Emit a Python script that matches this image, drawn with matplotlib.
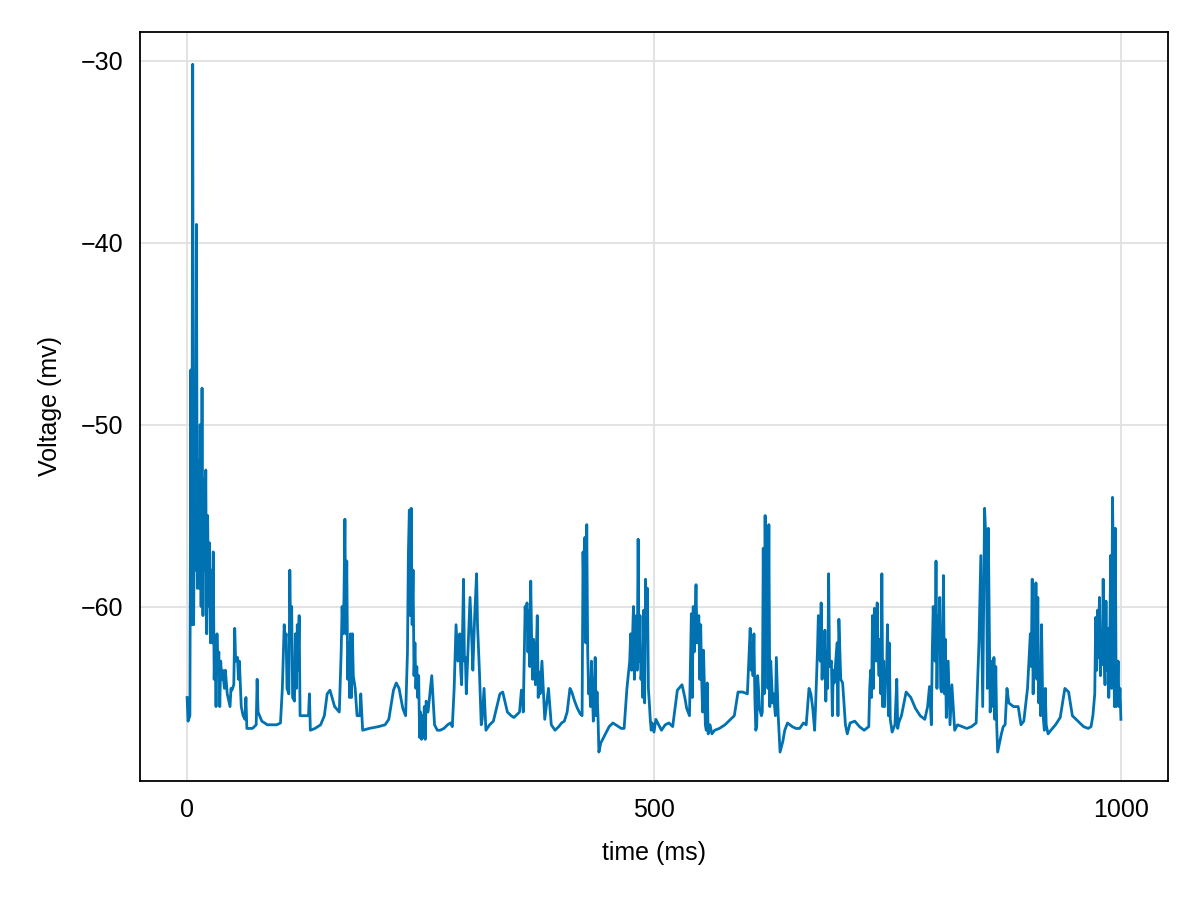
import matplotlib.pyplot as plt

# membrane voltage trace: (time ms, voltage mV)
trace = [
    (0, -65), (1, -66.3), (3, -66), (4, -47), (5, -61), (6, -30.2), (7, -61), (8, -53), (9, -58), (10, -39),
    (11, -59), (12, -52), (13, -59), (14, -50), (15, -60), (16, -48), (17, -60.5), (18, -53), (19, -58), (20, -52.5),
    (21, -61.5), (22, -55), (23, -60), (24, -56.5), (25, -62), (26, -58), (27, -62), (28, -57), (29, -64), (30, -62),
    (31, -65.5), (32, -61.5), (33, -63.5), (34, -62.5), (35, -65.5), (36, -63), (37, -64), (38, -63.5), (40, -64.5),
    (41, -63.5), (43, -64.8), (46, -65.5), (47, -64.5), (48, -64.6), (50, -64.3), (51, -61.2), (52, -63), (54, -62.8),
    (55, -64), (56, -63), (58, -65.5), (60, -66), (62, -66.2), (63, -65), (64, -66.7), (70, -66.7), (74, -66.5),
    (75, -64), (76, -65.8), (80, -66.3), (86, -66.5), (96, -66.5),
    (100, -66.4), (102, -64.5), (104, -61), (105, -62), (106, -61.5), (107, -64.5), (109, -64.8), (110, -58),
    (111, -62), (112, -60), (113, -65), (115, -65.2), (116, -61.5), (117, -64.5), (118, -61), (119, -63.5),
    (120, -60.5), (121, -66), (124, -66), (130, -66), (131, -64.8), (132, -66.8), (137, -66.7), (143, -66.5),
    (147, -66), (150, -64.8), (153, -64.6), (158, -65.5), (163, -65.8),
    (165, -62.5), (166, -60), (167, -61.5), (168, -59.5), (169, -55.2), (170, -61.5), (171, -57.5), (172, -64),
    (173, -62), (174, -65), (175, -61.5), (176, -65), (177, -61.5), (178, -63.8), (180, -64.5), (182, -66),
    (185, -66), (186, -64.8), (188, -66.8), (195, -66.7), (205, -66.6), (212, -66.5), (216, -66.2),
    (221, -64.6), (224, -64.2), (227, -64.5), (231, -65.6), (234, -66),
    (236, -62.5), (237, -57), (238, -54.7), (239, -60.5), (240, -54.6), (241, -61), (242, -58), (243, -63.8),
    (244, -62), (245, -64.5), (246, -63.3), (247, -65), (248, -63.8), (249, -67.2), (250, -65.8), (251, -67.3),
    (252, -66), (253, -67.2), (254, -65.5), (255, -67.3), (256, -65.2), (258, -65.8), (262, -63.8), (265, -66.5),
    (268, -66.8), (271, -66.8), (275, -66.7), (279, -66.5), (282, -66.4), (284, -66.6),
    (286, -64.5), (288, -61), (290, -63), (292, -61.5), (293, -63.5), (294, -64.3), (296, -58.5), (297, -63),
    (298, -62.8), (299, -64.8), (301, -62.2), (303, -59.5), (305, -62), (306, -63.5), (308, -60.5), (310, -58.2),
    (311, -61), (313, -63.5), (315, -66.5), (316, -66.2), (318, -64.5), (320, -66.8), (324, -66.5), (328, -66.3),
    (335, -64.8), (338, -64.7), (343, -65.8), (347, -66), (350, -66.1),
    (356, -65.8), (358, -64.6), (359, -64.7), (360, -65.8), (361, -63), (362, -60), (363, -61), (364, -59.8),
    (365, -62.5), (366, -60.2), (367, -63.3), (368, -58.6), (369, -62), (370, -64), (371, -61.8), (372, -62.5),
    (373, -64.3), (375, -60.5), (376, -65), (377, -63.6), (378, -64.8), (380, -63), (383, -66.2), (387, -64.5),
    (390, -66.5), (394, -66.8), (398, -66.6), (401, -66.4),
    (404, -66.3), (407, -65.8), (410, -64.5), (412, -64.7), (415, -65.2), (418, -65.6), (421, -65.9), (423, -66),
    (424, -57), (425, -60), (426, -56.2), (427, -62), (428, -55.5), (429, -62.5), (430, -64.8), (431, -64),
    (432, -65.5), (433, -63), (435, -66.3), (436, -65.7), (437, -62.8), (438, -66), (439, -64.7), (440, -66),
    (441, -68), (443, -67.5), (448, -67), (452, -66.6), (456, -66.4), (462, -66.6), (465, -66.7), (468, -66.7),
    (471, -64.5), (474, -63), (475, -61.5), (476, -63.5), (478, -60), (479, -64), (481, -60.5), (482, -63.5),
    (483, -56.3), (484, -63), (485, -60.5), (486, -64), (487, -63.5), (488, -65), (489, -60.2), (490, -65.3),
    (491, -58.5), (492, -61), (493, -59), (494, -64.5), (495, -65.3), (496, -66.2), (497, -66.8), (498, -66.4),
    (500, -66.9), (502, -66.2), (504, -66.4), (508, -66.8), (512, -66.5), (516, -66.4), (520, -66.6),
    (525, -64.6), (530, -64.3), (533, -65), (535, -65.6), (538, -66), (540, -60.4), (541, -65), (542, -60),
    (543, -62.5), (545, -58.8), (546, -62), (547, -61), (548, -60.5), (549, -64), (550, -61), (551, -63.8),
    (552, -65.8), (553, -62.4), (555, -66.5), (556, -66.8), (557, -64.2), (558, -67), (560, -66.5), (562, -67),
    (565, -66.8), (570, -66.7), (576, -66.5), (580, -66.3), (586, -66),
    (590, -64.7), (595, -64.7), (600, -64.8), (603, -61.2), (604, -63.5), (605, -62), (606, -63.8), (607, -61.5),
    (608, -65), (609, -66.8), (610, -66.6), (611, -63.8), (612, -64.6), (613, -65.6), (614, -65.8), (615, -66),
    (616, -65.8), (617, -56.8), (618, -64.8), (619, -55), (620, -62), (621, -56.8), (622, -64.5), (623, -55.5),
    (624, -65.5), (625, -63), (627, -65.3), (628, -64.8), (630, -66), (631, -62.8), (633, -66), (635, -68),
    (638, -67.4), (640, -66.8), (643, -66.4), (648, -66.6), (652, -66.7), (656, -66.7), (660, -66.4),
    (663, -66.5), (666, -64.5), (668, -64.8), (670, -65.6), (672, -66.8), (673, -65.5), (674, -64), (675, -62.5),
    (676, -60.5), (677, -61.5), (678, -63), (679, -59.8), (680, -64), (681, -62), (682, -63.5), (683, -61.3),
    (684, -65.2), (685, -62.5), (686, -64.5), (687, -58.2), (688, -63.3), (690, -63), (691, -66), (692, -63.5),
    (693, -64.2), (696, -62), (697, -66), (698, -60.7), (700, -64), (702, -64.2), (705, -66.5), (707, -67),
    (710, -66.4), (715, -66.3), (720, -66.6), (725, -66.8),
    (730, -66.6), (731, -64.5), (732, -63.5), (733, -65), (734, -60.5), (735, -64.5), (736, -60.1), (737, -62),
    (738, -63), (739, -59.8), (740, -62.5), (741, -63.8), (742, -61.8), (743, -64.8), (744, -58.2), (745, -65.5),
    (746, -63), (747, -65.5), (748, -63.5), (749, -64), (750, -61), (751, -66), (752, -62), (753, -66.2),
    (755, -66.9), (758, -66.5), (760, -64), (761, -66.7), (762, -66.4), (765, -66), (770, -64.7), (775, -65),
    (780, -65.6), (785, -66),
    (790, -66.2), (793, -65.5), (795, -64.4), (797, -66.5), (798, -62.5), (799, -60), (800, -61.5), (801, -63),
    (802, -57.5), (803, -64.5), (804, -60.5), (805, -62.2), (806, -59.5), (807, -64.5), (808, -64.7), (809, -62.6),
    (810, -58.3), (811, -64.8), (812, -61.8), (813, -66.1), (815, -63), (817, -66.5), (819, -64.3), (822, -66.8),
    (825, -66.5), (830, -66.6), (835, -66.7), (840, -66.6), (845, -66.4),
    (848, -62), (850, -57.2), (852, -65.5), (854, -54.6), (856, -57), (857, -64.5), (858, -55.7), (859, -61),
    (860, -65.8), (861, -64.2), (862, -63), (863, -65.5), (864, -62.8), (865, -66.2), (866, -63.3), (867, -66.5),
    (868, -68), (870, -67.5), (872, -67), (874, -66.6), (876, -66.5), (878, -64.5), (880, -65.3), (885, -65.5),
    (890, -65.5), (893, -66.5), (896, -66.3), (900, -64.5), (902, -62.5), (903, -61.5), (904, -63.3), (905, -58.5),
    (906, -64.8), (907, -61.5), (908, -63.5), (909, -58.7), (910, -64), (911, -59.5), (912, -65.3), (913, -63.2),
    (914, -66), (915, -61), (916, -64.5), (917, -66.2), (918, -66.8), (919, -64.5), (920, -66.5), (922, -67),
    (925, -66.8), (930, -66.5), (935, -66.1), (940, -64.5), (944, -64.7), (948, -66), (952, -66.2),
    (956, -66.4), (960, -66.6), (965, -66.7), (968, -66.6), (970, -66), (972, -64.8), (973, -60.6), (974, -63.5),
    (975, -60.2), (976, -62.8), (977, -59.5), (978, -63.8), (979, -61.5), (980, -63.2), (981, -58.5), (982, -62.5),
    (983, -64.3), (984, -59.7), (985, -63.5), (986, -61.2), (987, -65), (988, -62.4), (989, -57.2), (990, -64.5),
    (991, -54), (992, -58), (993, -65.5), (994, -55.7), (995, -65.5), (996, -65), (997, -63), (998, -65.5),
    (999, -64.5), (1000, -66.2),
]
t = [p[0] for p in trace]
v = [p[1] for p in trace]

plt.rcParams['font.family'] = ['Liberation Sans', 'DejaVu Sans']
fig, ax = plt.subplots(figsize=(12, 9), dpi=100)
fig.subplots_adjust(left=0.117, right=0.973, top=0.965, bottom=0.132)
ax.plot(t, v, color='#0072b2', lw=2)
ax.set_xlim(-50, 1050)
ax.set_ylim(-69.6, -28.4)
ax.set_xticks([0, 500, 1000])
ax.set_yticks([-60, -50, -40, -30])
ax.set_yticklabels(['−60', '−50', '−40', '−30'])
ax.grid(True, color='#e0e0e0', lw=1.3)
ax.set_axisbelow(True)
ax.tick_params(labelsize=18, length=0, pad=12)
ax.set_xlabel('time (ms)', fontsize=18, labelpad=14)
ax.set_ylabel('Voltage (mv)', fontsize=18, labelpad=14)
for s in ax.spines.values():
    s.set_linewidth(1.3)
fig.savefig('out.png')
